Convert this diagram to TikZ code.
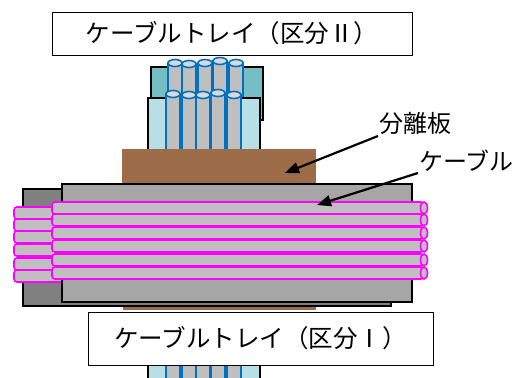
\documentclass[tikz,border=0pt]{standalone}
\usepackage{fontspec}
\setmainfont{Noto Sans CJK JP}
\usetikzlibrary{arrows.meta}

\definecolor{trayTeal}{RGB}{116,190,196}
\definecolor{trayCyan}{RGB}{184,223,230}
\definecolor{trayDark}{RGB}{128,128,128}
\definecolor{trayGray}{RGB}{166,166,166}
\definecolor{plateBrown}{RGB}{157,108,72}
\definecolor{cableGray}{RGB}{191,191,191}
\definecolor{cableTop}{RGB}{217,217,217}
\definecolor{cableBlue}{RGB}{0,112,192}
\definecolor{cableMagenta}{RGB}{255,0,255}

\begin{document}
\begin{tikzpicture}[x=1pt,y=-1pt,
    tray/.style={draw=black,line width=1.8pt},
    plate/.style={fill=plateBrown},
    vcable/.style={draw=cableBlue,line width=1.6pt,fill=cableGray},
    vcable top/.style={draw=cableBlue,line width=1.6pt,fill=cableTop},
    hcable/.style={draw=cableMagenta,line width=1.6pt,fill=cableGray,rounded corners=3pt},
    tray label/.style={draw=black,line width=0.8pt,fill=white,font=\fontsize{24.5}{27}\selectfont},
    side label/.style={font=\fontsize{24}{27}\selectfont,inner sep=1pt},
    pointer/.style={-{Triangle[length=14pt,width=11pt]},line width=2.2pt}]

  \useasboundingbox (0,0) rectangle (524,377);

  % Upper tray, back half and its cables
  \filldraw[tray,fill=trayTeal] (151,67) rectangle (263,120);
  \foreach \cx/\top in {175/63,189/64,205/63,220/61,236/63}{
    \filldraw[vcable] (\cx-7,\top) rectangle (\cx+7,110);
    \filldraw[vcable top] (\cx,\top) ellipse (7 and 3.5);
  }

  % Upper tray, front half and its cables
  \filldraw[tray,fill=trayCyan] (148,98) rectangle (260,160);
  \foreach \cx/\top in {173/94,189/95,203/95,218/93,234/95}{
    \filldraw[vcable] (\cx-7,\top) rectangle (\cx+7,155);
    \filldraw[vcable top] (\cx,\top) ellipse (7 and 3.5);
  }

  % Separator plates
  \fill[plate] (123,290) rectangle (316,310);
  \fill[plate] (122,149) rectangle (316,183);

  % Lower tray
  \filldraw[tray,fill=trayDark] (23,189) rectangle (391,306);
  \foreach \top in {207,219,231,244,258,270}{
    \filldraw[hcable] (14,\top) rectangle (90,\top+12);
  }
  \filldraw[tray,fill=trayGray] (62,184) rectangle (412,302);
  \foreach \top in {202,214,227,240,254,267}{
    \filldraw[hcable] (52,\top) rectangle (424,\top+12);
    \filldraw[hcable] (424,\top+6) ellipse (3.5 and 6);
  }

  % Tray below, cut off by the page edge
  \filldraw[tray,fill=trayCyan] (148,358) rectangle (260,380);
  \foreach \cx in {173,189,203,218,234}{
    \filldraw[vcable] (\cx-7,358) rectangle (\cx+7,380);
  }

  % Tray labels
  \node[tray label,minimum width=360pt,minimum height=43pt] (trayII) at (232,33.5) {ケーブルトレイ（区分Ⅱ）};
  \node[tray label,minimum width=345pt,minimum height=53pt] (trayI) at (260.5,338.5) {ケーブルトレイ（区分Ⅰ）};

  % Callouts
  \node[side label,anchor=south west] (plateLabel) at (378,136) {分離板};
  \node[side label,anchor=south west] (cableLabel) at (418,173) {ケーブル};
  \coordinate (plateTip) at (285,173);
  \coordinate (cableTip) at (317,205);
  \draw[pointer] (plateLabel.south west) -- (plateTip);
  \draw[pointer] (cableLabel.south west) -- (cableTip);

\end{tikzpicture}
\end{document}
